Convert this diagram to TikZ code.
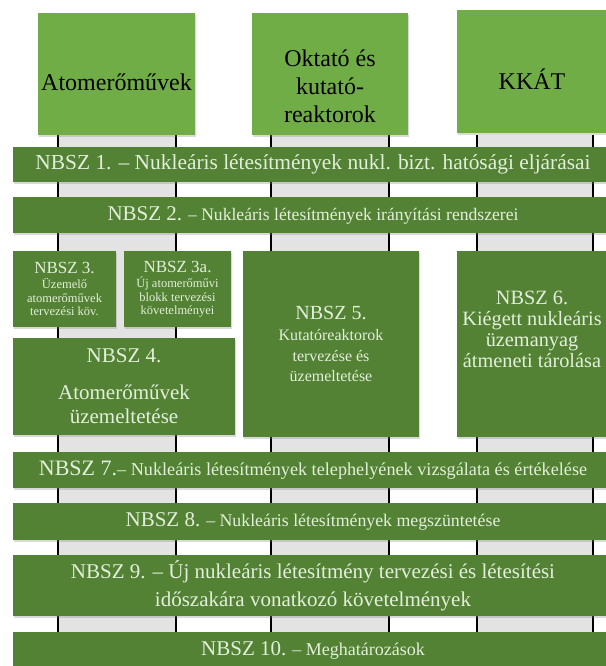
\documentclass[tikz,border=0pt]{standalone}
\usepackage{fontspec}
\setmainfont{Liberation Serif}
\usetikzlibrary{shadows}
\definecolor{lightgreen}{HTML}{70AD47}
\definecolor{darkgreen}{HTML}{548235}
\definecolor{mint}{HTML}{E2EFDA}
\definecolor{colgray}{HTML}{E3E3E3}
\newcommand{\fsz}[2]{\fontsize{#1}{#2}\selectfont}
\begin{document}
\begin{tikzpicture}[x=1pt, y=-1pt, inner sep=0pt,
	topbox/.style={rectangle, fill=lightgreen, drop shadow={opacity=0.3, shadow xshift=1pt, shadow yshift=-2pt}},
	nbsz/.style={rectangle, fill=darkgreen, text=mint, align=center, drop shadow={opacity=0.3, shadow xshift=1pt, shadow yshift=-2pt}},
	colline/.style={line width=1.3pt, black}]
	\useasboundingbox (0,0) rectangle (605,666);
	\fill[colgray] (58,135) rectangle (176,666);
	\fill[colgray] (271,135) rectangle (389,666);
	\fill[colgray] (477,135) rectangle (593,666);
	\draw[colline] (58,135) -- (58,666); \draw[colline] (176,135) -- (176,666);
	\draw[colline] (271,135) -- (271,666); \draw[colline] (389,135) -- (389,666);
	\draw[colline] (477,135) -- (477,666); \draw[colline] (593,135) -- (593,666);
	\node (atom) at (116.5,74) [topbox, minimum width=157, minimum height=122] {};
	\node (oktato) at (330,74) [topbox, minimum width=156, minimum height=122] {};
	\node (kkat) at (533,71.5) [topbox, minimum width=152, minimum height=123] {};
	\node (atomtext) at (116.5,82) [align=center, font=\fsz{24}{28}] {Atomerőművek};
	\node (oktatotext) at (330,86) [align=center, font=\fsz{24}{28}] {Oktató és\\kutató-\\reaktorok};
	\node (kkattext) at (532,79) [align=center, font=\fsz{24}{28}] {KKÁT};
	\node (n1) at (313,164.5) [nbsz, minimum width=600, minimum height=35, font=\fsz{21.4}{24}] {NBSZ 1. – Nukleáris létesítmények nukl. bizt. hatósági eljárásai};
	\node (n2) at (313,215) [nbsz, minimum width=600, minimum height=36, font=\fsz{17.6}{20}] {{\fsz{21}{24}NBSZ 2.} – Nukleáris létesítmények irányítási rendszerei};
	\node (n3) at (64.5,289) [nbsz, minimum width=103, minimum height=76, font=\fsz{12.5}{13.5}] {{\fsz{17}{18}NBSZ 3.}\\[2pt]Üzemelő\\atomerőművek\\tervezési köv.};
	\node (n3a) at (177.5,289) [nbsz, minimum width=107, minimum height=76, font=\fsz{12.5}{13.5}] {{\fsz{17}{18}NBSZ 3a.}\\[2pt]Új atomerőművi\\blokk tervezési\\követelményei};
	\node (n4) at (124,386.5) [nbsz, minimum width=222, minimum height=97, font=\fsz{21}{24}] {NBSZ 4.\\[13pt]Atomerőművek\\üzemeltetése};
	\node (n5) at (331,344) [nbsz, minimum width=176, minimum height=186, font=\fsz{16}{20.5}] {{\fsz{20}{22}NBSZ 5.}\\[1pt]Kutatóreaktorok\\tervezése és\\üzemeltetése};
	\node (n6) at (533,344) [nbsz, minimum width=152, minimum height=186] {};
	\node (n6text) at (532,329) [align=center, text=mint, font=\fsz{20.3}{21}] {NBSZ 6.\\Kiégett nukleáris\\üzemanyag\\átmeneti tárolása};
	\node (n7) at (313,470) [nbsz, minimum width=600, minimum height=36, font=\fsz{18.2}{20}] {{\fsz{22}{24}NBSZ 7.}– Nukleáris létesítmények telephelyének vizsgálata és értékelése};
	\node (n8) at (313,521.5) [nbsz, minimum width=600, minimum height=37, font=\fsz{17.8}{20}] {{\fsz{21}{24}NBSZ 8.} – Nukleáris létesítmények megszüntetése};
	\node (n9) at (313,585.5) [nbsz, minimum width=600, minimum height=61, font=\fsz{21}{28}] {NBSZ 9. – Új nukleáris létesítmény tervezési és létesítési\\időszakára vonatkozó követelmények};
	\node (n10) at (313,650) [nbsz, minimum width=600, minimum height=36, font=\fsz{18}{20}] {{\fsz{21}{24}NBSZ 10.} – Meghatározások};
\end{tikzpicture}
\end{document}
